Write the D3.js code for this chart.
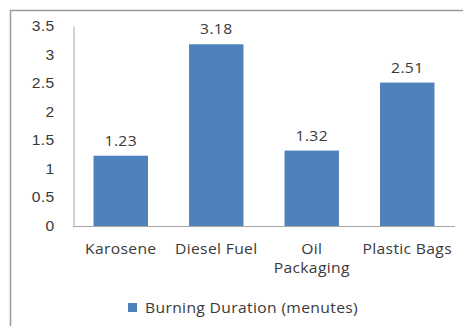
<!DOCTYPE html>
<html>
<head>
<meta charset="utf-8">
<script src="https://cdn.jsdelivr.net/npm/d3@7"></script>
<style>
  html, body { margin: 0; padding: 0; background: #fff; }
  svg { display: block; font-family: "Open Sans", "Noto Sans", sans-serif; }
  svg text { letter-spacing: 0.3px; }
</style>
</head>
<body>
<svg id="chart" width="463" height="326"></svg>
<script>
// Burning duration of fuels (minutes)
const categories = ["Karosene", "Diesel Fuel", "Oil Packaging", "Plastic Bags"];
const categoryLines = [["Karosene"], ["Diesel Fuel"], ["Oil", "Packaging"], ["Plastic Bags"]];
const burningDuration = [1.23, 3.18, 1.32, 2.51];
const yTicks = [0, 0.5, 1, 1.5, 2, 2.5, 3, 3.5];
const seriesName = "Burning Duration (menutes)";

const svg = d3.select("#chart");
const barColor = "#4F81BD";
const textColor = "#3a3a3a";
const fontSize = "14px";
const stretch = 1.12;   // wide text face

// places a horizontally widened label at (x, y)
function label(parent, x, y, str, anchor) {
  return parent.append("text")
    .attr("transform", `translate(${x},${y}) scale(${stretch},1)`)
    .attr("text-anchor", anchor)
    .attr("fill", textColor)
    .style("font-size", fontSize)
    .text(str);
}

// outer frame
svg.append("path")
  .attr("d", "M10.5,326 V10.5 H463")
  .attr("fill", "none")
  .attr("stroke", "#9a9a9a")
  .attr("stroke-width", 1.5);

const plot = { left: 73, right: 455, top: 26, bottom: 226 };

const x = d3.scaleBand()
  .domain(categories)
  .range([plot.left, plot.right])
  .paddingInner(0.43)
  .paddingOuter(0.215);

const y = d3.scaleLinear()
  .domain([0, 3.5])
  .range([plot.bottom, plot.top]);

// value axis
const yAxis = svg.append("g")
  .attr("transform", `translate(${plot.left + 0.5},0)`)
  .call(d3.axisLeft(y).tickValues(yTicks).tickSize(0).tickPadding(19).tickFormat(d3.format("")));
yAxis.select(".domain").attr("stroke", "#a6a6a6");
yAxis.selectAll(".tick text")
  .attr("x", -19 / stretch)
  .attr("transform", `scale(${stretch},1)`)
  .attr("fill", textColor)
  .style("font-size", fontSize);

// bars
svg.append("g").selectAll("rect")
  .data(burningDuration)
  .join("rect")
  .attr("x", (d, i) => x(categories[i]))
  .attr("width", x.bandwidth())
  .attr("y", d => y(d))
  .attr("height", d => y(0) - y(d))
  .attr("fill", barColor);

// value labels
const valueLayer = svg.append("g");
burningDuration.forEach((v, i) => {
  label(valueLayer, x(categories[i]) + x.bandwidth() / 2, y(v) - 10, v.toFixed(2), "middle");
});

// category axis
svg.append("line")
  .attr("x1", plot.left)
  .attr("x2", plot.right)
  .attr("y1", plot.bottom + 0.5)
  .attr("y2", plot.bottom + 0.5)
  .attr("stroke", "#a6a6a6");

// category labels, one text element per line
const catLayer = svg.append("g");
categories.forEach((c, i) => {
  categoryLines[i].forEach((t, j) => {
    label(catLayer, x(c) + x.bandwidth() / 2, 254 + j * 19.2, t, "middle");
  });
});

// legend
const legend = svg.append("g").attr("transform", "translate(128,303)");
legend.append("rect")
  .attr("width", 9)
  .attr("height", 9)
  .attr("fill", barColor);
label(legend, 17, 10, seriesName, "start");
</script>
</body>
</html>
